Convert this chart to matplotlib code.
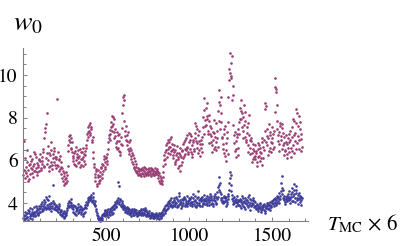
import numpy as np
import matplotlib
matplotlib.use("Agg")
import matplotlib.pyplot as plt
from matplotlib.ticker import MultipleLocator

plt.rcParams['font.family'] = ['STIXGeneral', 'Liberation Serif', 'DejaVu Serif']
plt.rcParams['mathtext.fontset'] = 'stix'

# samples every 5 MC units (0..1680) plus interleaved half-step samples (2.5..1677.5)
x_step = 5

purple_a = [  # x 0..495
    5.32, 6.92, 5.48, 5.71, 5.25, 6.48, 5.55, 5.12, 5.84, 5.63, 5.40, 6.05, 5.72, 5.51, 6.32, 5.66, 5.88, 5.45, 5.79, 6.01,
    5.95, 5.62, 6.18, 5.85, 6.40, 5.74, 7.52, 7.70, 8.22, 6.35, 6.02, 5.68, 6.25, 5.91, 6.48, 5.80, 6.12, 6.60, 5.77, 6.05,
    6.15, 8.88, 5.72, 6.05, 5.58, 5.90, 5.35, 5.62, 5.05, 5.28, 4.92, 5.18, 5.45, 5.02, 6.72, 7.15, 6.85, 7.05, 6.60, 6.38,
    6.20, 5.85, 6.45, 6.02, 5.74, 6.30, 6.12, 5.92, 6.55, 6.08, 5.80, 6.38, 6.15, 5.98, 6.42, 6.25, 6.60, 7.22, 7.55, 7.40,
    7.75, 7.18, 7.45, 6.95, 6.40, 5.70, 5.35, 5.05, 5.52, 4.82, 5.20, 4.95, 5.45, 5.10, 5.62, 5.35, 5.78, 6.05, 5.70, 5.92,
]
purple_b = [  # x 500..995
    6.10, 5.85, 6.55, 7.05, 7.42, 7.25, 7.78, 7.60, 8.05, 7.35, 7.92, 7.15, 6.80, 6.55, 7.20, 6.45, 6.90, 6.25, 7.10, 6.70,
    8.60, 9.08, 8.85, 7.40, 6.95, 7.20, 6.55, 6.85, 6.30, 6.60, 6.05, 6.35, 5.85, 6.10, 5.70, 5.55, 5.82, 5.40, 5.62, 5.35,
    5.48, 5.32, 5.60, 5.41, 5.55, 5.28, 5.50, 5.66, 5.38, 5.47, 5.58, 5.30, 5.52, 5.44, 5.62, 5.35, 5.49, 5.57, 5.33, 5.46,
    5.40, 5.52, 5.30, 5.18, 5.42, 4.95, 5.10, 4.88, 5.22, 5.75, 6.25, 6.05, 6.48, 6.80, 6.35, 6.95, 6.62, 7.02, 6.45, 6.78,
    6.55, 6.12, 6.40, 5.85, 6.25, 6.68, 5.62, 6.05, 6.35, 5.48, 6.18, 5.92, 6.50, 6.75, 6.22, 6.95, 6.48, 7.18, 6.65, 6.30,
]
purple_c = [  # x 1000..1495
    6.85, 7.25, 6.40, 6.70, 6.15, 6.95, 6.52, 7.05, 7.62, 7.45, 6.80, 6.35, 6.90, 6.20, 6.58, 7.10, 6.75, 8.05, 8.92, 7.60,
    8.45, 7.95, 8.70, 7.40, 8.15, 7.22, 6.85, 7.50, 6.40, 6.95, 7.30, 6.62, 7.75, 6.50, 7.05, 8.30, 9.32, 8.60, 8.95, 7.80,
    7.10, 6.55, 7.45, 6.20, 6.80, 5.95, 7.35, 8.95, 10.30, 11.05, 10.55, 9.85, 10.90, 9.50, 7.20, 6.45, 6.90, 6.15, 7.25, 6.60,
    7.80, 8.45, 8.85, 7.95, 8.20, 7.40, 8.60, 7.10, 8.25, 6.85, 7.55, 6.40, 8.15, 6.95, 6.30, 7.05, 5.90, 6.55, 6.15, 6.70,
    6.05, 6.45, 5.75, 6.80, 6.20, 5.95, 6.60, 6.35, 7.05, 6.10, 6.50, 8.40, 8.70, 6.85, 7.45, 6.25, 7.70, 6.60, 7.20, 6.40,
]
purple_d = [  # x 1500..1680
    7.05, 6.55, 7.40, 9.45, 9.87, 9.20, 7.85, 6.90, 7.35, 6.45, 7.60, 7.15, 7.70, 6.70, 6.25, 7.10, 6.50, 6.85, 6.10, 6.60,
    7.25, 6.40, 6.95, 6.15, 7.55, 6.70, 7.85, 6.35, 7.30, 8.40, 6.80, 7.60, 8.10, 6.55, 7.45, 7.00, 6.65,
]
purple_mid_a = [  # x 2.5..497.5
    5.55, 5.18, 6.10, 5.42, 5.90, 5.05, 5.76, 6.20, 5.35, 5.95, 5.58, 5.22, 6.40, 5.85, 5.48, 6.15, 5.30, 5.70, 6.08, 5.52,
    6.30, 5.55, 5.98, 6.52, 5.70, 7.05, 7.35, 6.10, 5.82, 6.68, 5.50, 6.35, 5.75, 6.85, 5.60, 6.28, 5.92, 6.45, 6.15, 5.65,
    5.80, 6.40, 6.02, 5.48, 6.20, 5.70, 5.15, 5.50, 4.85, 5.40, 5.12, 4.95, 5.30, 5.75, 6.45, 6.95, 7.20, 6.55, 6.85, 6.10,
    5.95, 6.35, 5.78, 6.65, 6.18, 5.88, 6.50, 6.22, 5.70, 6.40, 6.05, 5.75, 6.58, 6.30, 5.85, 6.70, 6.95, 7.35, 7.10, 7.65,
    7.30, 7.55, 6.85, 7.10, 6.10, 5.85, 5.20, 5.60, 4.90, 5.30, 5.55, 5.05, 5.25, 5.70, 5.15, 5.85, 5.50, 6.20, 5.60, 6.15,
]
purple_mid_b = [  # x 502.5..997.5
    5.95, 6.30, 6.85, 7.20, 6.95, 7.55, 7.40, 8.10, 7.70, 7.05, 7.45, 6.65, 7.35, 6.90, 6.60, 7.25, 6.40, 6.75, 7.50, 8.20,
    8.95, 7.85, 7.15, 7.60, 6.70, 6.90, 7.35, 6.45, 6.95, 6.20, 6.50, 5.90, 6.25, 5.65, 5.95, 5.45, 5.68, 5.52, 5.30, 5.58,
    5.38, 5.55, 5.25, 5.62, 5.36, 5.68, 5.42, 5.30, 5.58, 5.35, 5.45, 5.65, 5.38, 5.55, 5.28, 5.60, 5.40, 5.32, 5.64, 5.50,
    5.35, 5.60, 5.45, 5.02, 5.28, 5.15, 4.92, 5.05, 5.45, 6.00, 5.85, 6.40, 6.70, 6.15, 6.55, 6.88, 6.30, 6.65, 7.10, 6.50,
    6.25, 6.70, 5.90, 6.50, 6.00, 6.35, 6.15, 5.75, 6.60, 6.25, 5.80, 6.45, 6.10, 6.85, 6.55, 6.30, 7.05, 6.60, 6.40, 7.30,
]
purple_mid_c = [  # x 1002.5..1497.5
    6.55, 6.95, 7.15, 6.30, 6.85, 6.45, 7.30, 7.75, 6.90, 6.60, 7.20, 6.50, 7.40, 6.75, 6.95, 6.40, 7.55, 7.25, 8.35, 7.90,
    7.65, 8.10, 7.25, 7.85, 6.80, 7.60, 7.15, 6.70, 7.35, 6.55, 7.90, 7.10, 6.85, 7.40, 6.65, 7.85, 8.75, 7.45, 8.20, 7.05,
    6.75, 7.25, 6.35, 7.60, 6.50, 7.05, 6.30, 7.80, 9.75, 10.10, 9.95, 8.85, 9.05, 7.65, 6.80, 7.35, 6.55, 7.10, 6.25, 7.45,
    7.25, 7.95, 8.30, 7.55, 7.05, 8.05, 7.65, 7.85, 6.95, 7.30, 6.70, 7.75, 7.20, 6.60, 6.90, 6.35, 6.75, 6.05, 6.45, 6.20,
    6.35, 5.90, 6.55, 6.15, 6.70, 6.40, 6.10, 6.85, 5.80, 6.65, 6.95, 7.40, 8.55, 7.15, 6.70, 7.05, 6.45, 7.35, 6.85, 7.55,
]
purple_mid_d = [  # x 1502.5..1677.5
    6.80, 7.25, 6.65, 8.25, 9.35, 8.60, 7.45, 7.20, 6.75, 7.75, 6.95, 7.50, 6.55, 7.30, 6.80, 6.45, 7.20, 6.30, 6.75, 7.05,
    6.85, 7.40, 6.60, 7.10, 6.45, 7.95, 7.20, 6.90, 7.75, 6.55, 8.20, 7.15, 6.95, 7.80, 6.45, 7.25,
]

blue_a = [  # x 0..495
    3.30, 3.22, 3.45, 3.28, 3.55, 3.35, 3.18, 3.62, 3.40, 3.50, 3.25, 3.72, 3.48, 3.58, 3.38, 3.85, 3.52, 3.65, 3.42, 3.70,
    3.60, 3.85, 3.72, 4.05, 3.68, 3.95, 3.80, 4.28, 3.75, 3.92, 4.12, 3.70, 3.88, 3.62, 4.02, 3.78, 4.85, 3.95, 3.70, 3.85,
    3.92, 3.68, 3.75, 3.95, 3.58, 3.45, 3.62, 3.38, 3.52, 3.30, 3.48, 3.60, 3.42, 3.75, 3.92, 4.10, 3.85, 4.18, 3.98, 3.80,
    3.72, 3.55, 3.88, 3.62, 3.45, 3.78, 3.95, 3.58, 3.70, 3.50, 3.82, 3.65, 3.40, 3.75, 3.60, 3.90, 4.05, 3.95, 4.22, 4.12,
    4.30, 4.15, 4.25, 4.05, 4.45, 3.95, 4.10, 3.85, 3.70, 3.45, 3.30, 3.18, 3.25, 3.16, 3.35, 3.20, 3.42, 3.55, 3.38, 3.62,
]
blue_b = [  # x 500..995
    3.48, 3.65, 3.35, 3.58, 3.72, 3.42, 3.60, 3.80, 3.55, 3.92, 3.75, 4.05, 3.88, 4.15, 5.00, 4.80, 3.95, 4.12, 3.85, 4.02,
    3.90, 3.75, 3.82, 3.60, 3.70, 3.55, 3.78, 3.48, 3.65, 3.58, 3.40, 3.72, 3.52, 3.62, 3.45, 3.68, 3.55, 3.38, 3.60, 3.50,
    3.62, 3.48, 3.70, 3.55, 3.42, 3.65, 3.52, 3.75, 3.45, 3.58, 3.38, 3.50, 3.62, 3.32, 3.45, 3.55, 3.28, 3.48, 3.40, 3.35,
    3.52, 3.30, 3.45, 3.38, 3.25, 3.48, 3.35, 3.58, 3.42, 3.65, 3.78, 3.55, 3.90, 3.72, 4.05, 3.85, 4.10, 3.95, 4.22, 3.82,
    4.05, 3.88, 4.15, 3.95, 4.30, 3.82, 4.08, 3.92, 4.45, 4.00, 3.78, 4.18, 3.90, 4.02, 4.25, 3.85, 4.10, 3.95, 4.35, 3.98,
]
blue_c = [  # x 1000..1495
    4.12, 3.90, 4.28, 3.85, 4.05, 4.40, 3.95, 4.15, 3.80, 4.22, 4.00, 4.55, 3.92, 4.18, 4.08, 3.88, 4.30, 4.02, 4.20, 3.95,
    4.10, 4.32, 3.90, 4.18, 4.05, 4.42, 3.95, 4.25, 4.12, 3.85, 4.35, 4.08, 4.28, 4.02, 4.50, 4.75, 5.20, 4.95, 4.40, 4.15,
    4.22, 3.98, 4.35, 4.10, 3.88, 4.28, 4.05, 4.40, 4.62, 5.45, 5.30, 4.55, 4.18, 3.95, 4.30, 4.08, 3.85, 4.20, 4.00, 4.15,
    3.92, 4.20, 3.75, 4.05, 4.32, 3.88, 4.10, 3.70, 4.25, 3.98, 4.15, 3.82, 4.38, 4.00, 3.68, 4.12, 3.90, 4.22, 3.80, 4.05,
    3.85, 3.70, 3.95, 3.62, 3.88, 3.75, 4.02, 3.58, 3.80, 3.92, 3.68, 3.85, 3.55, 3.78, 4.00, 3.72, 3.90, 3.65, 4.05, 3.82,
]
blue_d = [  # x 1500..1680
    3.98, 4.15, 3.88, 4.25, 4.05, 3.92, 4.32, 4.10, 4.45, 4.00, 4.20, 4.92, 5.28, 4.60, 4.12, 4.35, 3.95, 4.28, 4.08, 4.40,
    4.15, 4.55, 3.98, 4.30, 4.72, 4.10, 4.40, 4.88, 4.05, 4.62, 4.25, 3.95, 4.48, 4.18, 4.35, 3.92, 4.22,
]
blue_mid_a = [  # x 2.5..497.5
    3.40, 3.58, 3.25, 3.48, 3.35, 3.65, 3.52, 3.28, 3.75, 3.45, 3.60, 3.38, 3.55, 3.82, 3.45, 3.62, 3.78, 3.50, 3.88, 3.58,
    3.75, 3.95, 3.62, 3.85, 4.15, 3.78, 4.05, 3.70, 4.20, 3.82, 3.95, 4.35, 3.75, 3.98, 3.85, 4.10, 3.72, 4.00, 3.80, 3.68,
    3.82, 3.60, 3.88, 3.70, 3.50, 3.65, 3.42, 3.55, 3.35, 3.62, 3.40, 3.55, 3.68, 3.85, 4.02, 3.80, 4.05, 3.92, 3.75, 3.90,
    3.60, 3.85, 3.50, 3.75, 3.68, 3.52, 3.80, 3.65, 3.88, 3.58, 3.72, 3.48, 3.70, 3.55, 3.82, 3.75, 3.92, 4.15, 4.05, 4.30,
    4.20, 4.38, 4.10, 4.28, 4.15, 4.02, 3.92, 3.62, 3.55, 3.28, 3.40, 3.22, 3.32, 3.25, 3.45, 3.30, 3.50, 3.45, 3.68, 3.52,
]
blue_mid_b = [  # x 502.5..997.5
    3.58, 3.42, 3.70, 3.50, 3.62, 3.78, 3.48, 3.68, 3.85, 3.70, 3.95, 3.82, 4.10, 3.98, 4.22, 4.05, 4.18, 3.90, 4.08, 3.80,
    3.70, 3.88, 3.65, 3.75, 3.62, 3.82, 3.58, 3.72, 3.50, 3.68, 3.55, 3.62, 3.45, 3.70, 3.58, 3.48, 3.65, 3.52, 3.45, 3.62,
    3.55, 3.68, 3.45, 3.60, 3.72, 3.50, 3.62, 3.40, 3.65, 3.48, 3.55, 3.42, 3.38, 3.52, 3.35, 3.45, 3.40, 3.30, 3.50, 3.42,
    3.38, 3.45, 3.28, 3.52, 3.40, 3.32, 3.55, 3.42, 3.50, 3.72, 3.62, 3.85, 3.68, 3.95, 3.78, 4.00, 3.88, 4.12, 3.92, 4.05,
    3.92, 4.22, 3.85, 4.05, 3.98, 4.18, 3.88, 4.35, 3.95, 4.12, 4.05, 3.85, 4.15, 4.30, 3.92, 4.20, 4.02, 3.88, 4.10, 4.25,
]
blue_mid_c = [  # x 1002.5..1497.5
    4.00, 4.18, 4.05, 3.95, 4.25, 4.10, 3.88, 4.32, 4.05, 3.92, 4.28, 4.15, 4.02, 3.85, 4.22, 4.12, 3.95, 4.38, 4.08, 4.15,
    4.25, 3.98, 4.12, 4.30, 3.92, 4.15, 4.35, 4.02, 3.95, 4.22, 4.12, 4.40, 3.95, 4.18, 4.30, 4.60, 4.85, 4.50, 4.25, 4.05,
    4.10, 4.30, 4.05, 4.22, 4.15, 3.95, 4.35, 4.20, 4.95, 5.15, 4.85, 4.38, 4.10, 4.25, 3.98, 4.15, 4.05, 4.32, 4.10, 3.92,
    4.10, 3.85, 4.15, 3.95, 4.05, 4.22, 3.82, 4.00, 4.12, 3.90, 4.28, 4.05, 3.92, 4.18, 3.85, 4.02, 4.15, 3.95, 4.10, 3.88,
    3.75, 3.92, 3.80, 3.70, 3.82, 3.95, 3.65, 3.88, 3.72, 3.82, 3.95, 3.62, 3.75, 3.90, 3.85, 3.98, 3.78, 3.92, 3.88, 4.10,
]
blue_mid_d = [  # x 1502.5..1677.5
    4.08, 3.95, 4.18, 4.02, 4.15, 4.22, 4.00, 4.30, 4.18, 4.35, 4.55, 4.70, 4.42, 4.25, 4.18, 4.05, 4.20, 4.15, 4.32, 4.22,
    4.30, 4.20, 4.42, 4.08, 4.50, 4.35, 4.60, 4.25, 4.45, 4.80, 4.15, 4.38, 4.22, 4.05, 4.30, 4.12,
]

purple_main = purple_a + purple_b + purple_c + purple_d
purple_mid = purple_mid_a + purple_mid_b + purple_mid_c + purple_mid_d
blue_main = blue_a + blue_b + blue_c + blue_d
blue_mid = blue_mid_a + blue_mid_b + blue_mid_c + blue_mid_d

x_main = np.arange(len(purple_main)) * x_step
x_mid = np.arange(len(purple_mid)) * x_step + x_step / 2
x = np.concatenate([x_main, x_mid])
purple = np.array(purple_main + purple_mid)
blue = np.array(blue_main + blue_mid)

xticks = [500, 1000, 1500]
yticks = [4, 6, 8, 10]

W, H = 407, 246
fig = plt.figure(figsize=(W / 100, H / 100), dpi=100)
ax = fig.add_axes([23.3 / W, 1 - 220.7 / H, (308 - 23.3) / W, (220.7 - 48) / H])

blue_col = '#3d3d99'
purple_col = '#993d74'
ax.scatter(x, blue, s=3.6, color=blue_col, linewidths=0, clip_on=False)
ax.scatter(x, purple, s=3.6, color=purple_col, linewidths=0, clip_on=False)

ax.set_xlim(0, 1717)
ax.set_ylim(3.17, 11.27)

for s in ['top', 'right']:
    ax.spines[s].set_visible(False)
for s in ['left', 'bottom']:
    ax.spines[s].set_color('#808080')
    ax.spines[s].set_linewidth(0.8)

ax.set_xticks(xticks)
ax.set_yticks(yticks)
ax.xaxis.set_minor_locator(MultipleLocator(100))
ax.yaxis.set_minor_locator(MultipleLocator(0.5))
ax.tick_params(which='both', direction='in', color='#808080', width=0.7,
               labelsize=14, labelcolor='black')
ax.tick_params(which='major', length=3.2)
ax.tick_params(which='minor', length=2.0)
ax.tick_params(axis='x', pad=5)
ax.tick_params(axis='y', pad=4)

fig.text(13 / W, 1 - 30 / H, r'$w_0$', fontsize=20, ha='left', va='baseline')
fig.text(327 / W, 1 - 230 / H, r'$T_{\mathrm{MC}}$ × 6', fontsize=15, ha='left', va='baseline')

fig.savefig('out.png', dpi=100)
